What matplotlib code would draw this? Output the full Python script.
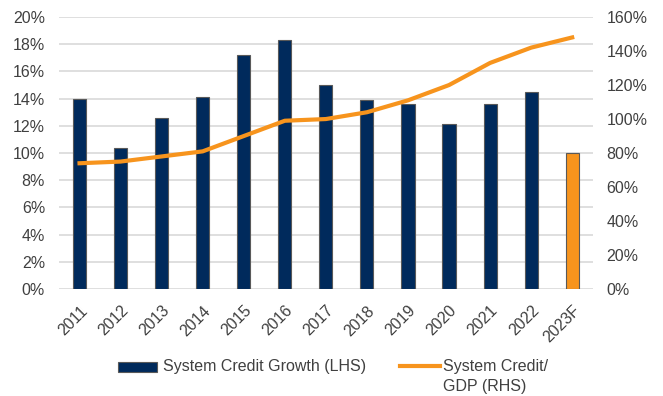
import matplotlib
matplotlib.use("Agg")
import matplotlib.pyplot as plt
from matplotlib.patches import Rectangle
from matplotlib.lines import Line2D
from matplotlib.ticker import FuncFormatter

years = ["2011", "2012", "2013", "2014", "2015", "2016", "2017", "2018",
         "2019", "2020", "2021", "2022", "2023F"]
credit_growth = [14.0, 10.4, 12.6, 14.1, 17.2, 18.3, 15.0, 13.9, 13.6, 12.1, 13.6, 14.5, 10.0]
credit_gdp = [74, 75, 78, 81, 90, 99, 100, 104, 111, 120, 133, 142, 148]
legend_labels = ["System Credit Growth (LHS)", "System Credit/", "GDP (RHS)"]

navy = "#002A5C"
orange = "#F7941D"
grid = "#D9D9D9"
txt = "#404040"
fs = 11.5

plt.rcParams['font.family'] = ['Liberation Sans', 'DejaVu Sans']

W, H = 663, 396
fig = plt.figure(figsize=(W / 100, H / 100), dpi=100)
ax = fig.add_axes([0.089, 0.270, 0.805, 0.687])
x = list(range(len(years)))
colors = [navy] * (len(years) - 1) + [orange]
ax.bar(x, credit_growth, width=0.32, color=colors, edgecolor="#595959", linewidth=0.8, zorder=3)
ax.set_ylim(0, 20)
ax.set_xlim(-0.5, len(years) - 0.5)
ax.set_yticks(range(0, 21, 2))
ax.yaxis.set_major_formatter(FuncFormatter(lambda v, p: f"{v:.0f}%"))
ax.grid(axis="y", color=grid, linewidth=1.2, zorder=0)
ax.set_axisbelow(True)
for s in ax.spines.values():
    s.set_visible(False)
ax.set_xticks(x)
ax.set_xticklabels(years, rotation=45, ha="right", rotation_mode="anchor")
ax.tick_params(axis="y", length=0, labelsize=fs, colors=txt, pad=10)
ax.tick_params(axis="x", length=0, labelsize=fs, colors=txt, pad=10)

ax2 = ax.twinx()
ax2.plot(x, credit_gdp, color=orange, linewidth=3, zorder=4)
ax2.set_ylim(0, 160)
ax2.set_yticks(range(0, 161, 20))
ax2.yaxis.set_major_formatter(FuncFormatter(lambda v, p: f"{v:.0f}%"))
for s in ax2.spines.values():
    s.set_visible(False)
ax2.tick_params(axis="y", length=0, labelsize=fs, colors=txt, pad=10)

# manual legend (figure pixel coords -> fractions)
def fx(px):
    return px / W

def fy(py):
    return 1 - py / H

fig.patches.append(Rectangle((fx(118), fy(372)), fx(157) - fx(118), fy(362) - fy(372),
                             transform=fig.transFigure, facecolor=navy,
                             edgecolor="#595959", linewidth=0.8))
fig.text(fx(163), fy(367), legend_labels[0], fontsize=fs, color=txt, va="center", ha="left")
fig.lines.append(Line2D([fx(400), fx(440)], [fy(366), fy(366)], transform=fig.transFigure,
                        color=orange, linewidth=3))
fig.text(fx(443), fy(367), legend_labels[1], fontsize=fs, color=txt, va="center", ha="left")
fig.text(fx(443), fy(386), legend_labels[2], fontsize=fs, color=txt, va="center", ha="left")

fig.savefig("out.png", dpi=100)
